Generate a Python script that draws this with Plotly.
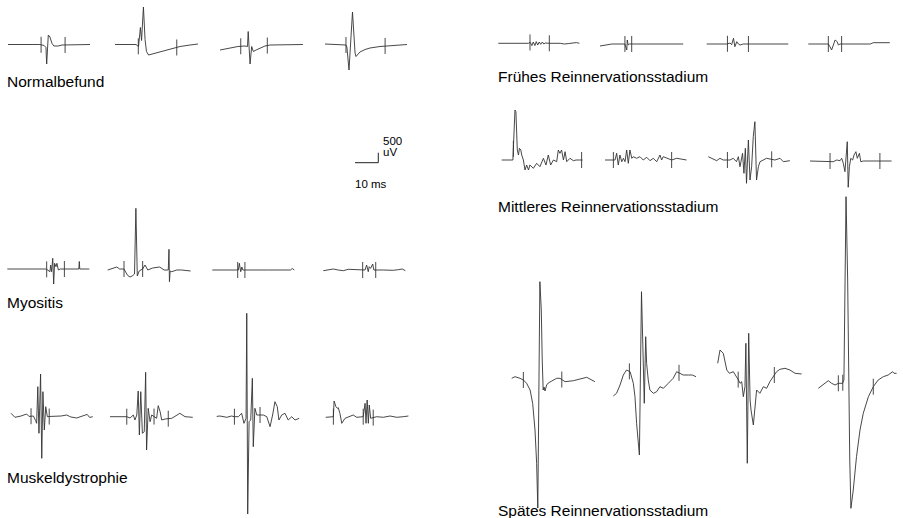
import numpy as np
import plotly.graph_objects as go

# ---------------- data (time in ms, amplitude in microvolt) ----------------
normal_1_ms = [0, 13.7, 15.5, 16.3, 16.6, 17.3, 18.0, 18.9, 19.7, 21.5, 23.2, 35.2]
normal_1_uv = [0, 0, -50, -150, -975, 475, 375, 50, -75, -75, -25, 0]
normal_1_cursors = [14.2, 24.5]

normal_2_ms = [0, 9.0, 10.1, 10.9, 11.4, 12.2, 12.9, 13.5, 14.4, 15.9, 19.3, 23.6, 27.9, 32.2, 35.6]
normal_2_uv = [0, 0, -100, 850, 200, 1875, 250, -350, -525, -475, -375, -250, -100, -25, 25]
normal_2_cursors = [10.0, 26.5]

normal_3_ms = [0, 4.3, 7.7, 10.7, 11.8, 12.1, 12.9, 13.6, 14.3, 15.5, 17.2, 19.3, 21.5, 35.6]
normal_3_uv = [-275, -175, -100, -75, -100, 650, -975, -100, -350, -275, -175, -75, -25, 0]
normal_3_cursors = [8.9, 20.3]

normal_4_ms = [0, 7.7, 9.0, 9.4, 10.3, 11.8, 12.2, 12.9, 13.3, 15.0, 17.2, 19.3, 23.6, 27.9, 35.2]
normal_4_uv = [50, 0, 0, -100, -1250, 1650, 750, -400, -575, -350, -225, -150, -75, -25, 25]
normal_4_cursors = [9.0, 25.8]

myositis_1_ms = [0, 16.7, 18.3, 18.6, 19.0, 19.5, 19.9, 20.3, 20.9, 21.3, 21.9, 22.7, 30.7, 30.9, 31.1, 35.2]
myositis_1_uv = [0, 0, -135, 200, -135, 535, -750, 285, 115, 285, -50, 0, 0, 375, 0, 0]
myositis_1_cursors = [16.9, 24.5]

myositis_2_ms = [0, 2.6, 3.9, 5.1, 7.0, 7.7, 8.6, 9.6, 10.5, 11.5, 12.1, 12.7, 13.5, 15.0, 16.0,
                 17.2, 19.3, 22.3, 24.2, 26.0, 26.3, 26.5, 26.8, 27.5, 29.6, 31.7, 33.9, 35.6]
myositis_2_uv = [-50, 50, 100, 0, 0, -150, -325, -400, -350, -250, 3035, -350, -100, 0, 200,
                 -50, 50, 100, -50, -50, 985, -635, -100, -135, -50, -50, -85, -100]
myositis_2_cursors = [7.0, 15.0]

myositis_3_ms = [0, 11.2, 11.6, 12.2, 12.7, 13.1, 23.6, 33.5, 34.3, 35.2]
myositis_3_uv = [0, 0, 335, -85, 150, 0, 0, 0, 75, 0]
myositis_3_cursors = [10.9, 14.0]

myositis_4_ms = [0, 2.1, 4.3, 6.4, 8.6, 10.7, 12.9, 16.7, 17.9, 18.6, 19.3, 19.7, 20.3, 21.2, 21.7,
                 25.7, 30.0, 32.2, 33.9, 35.2]
myositis_4_uv = [-35, 15, 50, 0, -35, 35, 15, 0, 0, 250, -85, 165, 85, 300, 0,
                 0, -15, 15, 50, -35]
myositis_4_cursors = [16.9, 22.5]

dystrophy_1_ms = [0, 1.7, 4.3, 6.7, 7.7, 9.6, 10.6, 11.0, 11.5, 12.0, 12.7, 13.2, 13.7, 14.3, 14.9,
                  15.6, 17.2, 21.5, 23.9, 25.7, 28.2, 30.0, 32.7, 33.7, 35.1]
dystrophy_1_uv = [170, -30, 35, 135, 15, 35, -200, -330, 1500, -830, 2135, -2080, 1250, -665, 500,
                  0, 15, 35, 85, -15, -65, 0, 115, -35, 0]
dystrophy_1_cursors = [8.6, 16.4]

dystrophy_2_ms = [0, 4.3, 7.2, 8.6, 10.0, 10.7, 11.5, 12.1, 12.6, 13.2, 13.9, 14.7, 15.3, 15.7, 16.4,
                  17.2, 17.9, 20.0, 20.7, 21.5, 22.2, 23.6, 26.5, 30.0, 32.2, 35.5]
dystrophy_2_uv = [0, -15, 0, -65, 85, -165, 85, 1285, -915, 1250, -830, -750, 2220, -1665, 420,
                  -250, 85, -80, 550, 250, -165, -115, -80, 170, 0, -30]
dystrophy_2_cursors = [7.2, 18.9, 25.0]

dystrophy_3_ms = [0, 1.4, 4.3, 6.4, 7.6, 9.3, 10.7, 11.7, 12.6, 12.9, 13.3, 13.9, 14.6, 15.3, 15.7,
                  16.4, 17.2, 20.0, 21.5, 22.9, 24.0, 25.0, 26.0, 26.7, 27.9, 29.3, 30.7, 32.2, 33.6, 35.4]
dystrophy_3_uv = [15, 35, -30, 35, 0, 0, 170, -330, -80, 5170, -4865, -250, -165, 1920, -1500,
                  420, 85, 85, 0, -500, 85, 750, 500, -165, 85, 170, -165, 0, -165, -80]
dystrophy_3_cursors = [7.6, 18.6]

dystrophy_4_ms = [0, 1.8, 3.3, 3.6, 4.4, 5.0, 5.4, 6.1, 6.9, 8.3, 9.7, 11.8, 13.3, 14.7, 16.1,
                  16.9, 17.3, 17.8, 18.3, 18.7, 19.3, 21.9, 24.7, 27.6, 30.5, 33.3, 35.5]
dystrophy_4_uv = [-30, -15, 0, 785, 500, 420, 450, 170, -330, -80, 0, 85, -30, 0, 0,
                  670, -330, 835, -330, 585, -80, 0, -30, 35, -30, 0, 35]
dystrophy_4_cursors = [3.3, 16.1, 20.4]

early_1_ms = [0, 12.9, 13.7, 14.4, 15.0, 15.7, 16.3, 16.9, 17.6, 18.2, 18.9, 19.5, 20.2, 21.9,
              26.6, 28.3, 30.0, 31.7, 33.5, 34.8]
early_1_uv = [0, 0, 50, -115, 65, -115, 85, -85, 65, -50, 65, -35, 15, 0,
              0, -35, -15, 15, 35, 0]
early_1_cursors = [13.6, 21.9]

early_2_ms = [0, 2.1, 3.4, 5.1, 8.6, 10.7, 11.5, 11.7, 12.1, 12.6, 17.2, 25.7, 35.7]
early_2_uv = [-100, -50, -35, 0, 0, 0, -300, 200, -50, 0, 0, 0, 0]
early_2_cursors = [10.7, 13.6]

early_3_ms = [0, 8.6, 10.0, 10.7, 11.5, 12.1, 12.9, 13.6, 14.3, 15.7, 35.0]
early_3_uv = [0, 0, 50, -35, 285, -135, 115, 0, -50, 0, 0]
early_3_cursors = [8.9, 17.9]

early_4_ms = [0, 8.6, 9.3, 10.0, 11.5, 12.4, 12.9, 13.6, 26.6, 27.9, 35.0]
early_4_uv = [0, 0, -135, -300, 200, 115, -50, 0, 0, 65, 65]
early_4_cursors = [8.6, 14.3]

middle_1_ms = [0, 4.8, 5.7, 6.1, 6.7, 7.2, 7.6, 8.2, 8.6, 9.3, 10.0, 10.7, 11.5, 12.1, 13.6, 15.0,
               16.4, 17.9, 19.0, 20.0, 21.0, 22.2, 23.6, 24.3, 25.0, 25.7, 26.5, 27.2, 27.9, 29.3,
               30.8, 31.9, 34.7]
middle_1_uv = [0, 0, 2500, 2415, 500, 250, 585, 500, 250, 0, -500, -250, -500, -250, -415, -165,
               -335, 85, -250, 250, -250, 0, -85, 500, 335, 500, 0, 415, -85, 85,
               -35, 0, 0]
middle_1_cursors = [5.0, 34.3]

middle_2_ms = [0, 4.3, 5.0, 5.7, 6.4, 7.2, 7.9, 8.6, 9.3, 10.0, 10.7, 11.5, 12.1, 13.6, 15.0, 16.4,
               17.9, 19.3, 20.7, 22.2, 23.6, 24.3, 25.0, 26.5, 28.6, 30.8, 32.9, 35.0]
middle_2_uv = [0, 0, 335, -250, 250, -85, 85, -85, 500, -165, 500, 85, 165, 85, 165, 0,
               135, -35, 85, -85, 250, 0, 165, 85, 0, 85, 35, 0]
middle_2_cursors = [3.6, 28.6]

middle_3_ms = [0, 1.4, 3.6, 5.0, 6.4, 9.3, 10.7, 12.1, 12.9, 13.6, 14.7, 15.3, 15.9, 16.4, 17.2,
               17.9, 18.6, 19.3, 20.0, 20.7, 21.5, 22.2, 23.6, 25.0, 28.6, 30.8, 32.2, 35.0]
middle_3_uv = [165, 85, -35, 85, 0, 0, 85, -85, 165, -335, 335, -665, 585, -1165, 1000,
               -1000, -335, 1165, 1915, -1000, -335, -85, 0, 85, 0, 85, -85, -35]
middle_3_cursors = [8.2, 27.2]

middle_4_ms = [0, 8.6, 10.0, 11.5, 12.9, 13.6, 14.3, 15.0, 15.4, 16.0, 16.4, 16.9, 17.5, 18.3,
               18.9, 19.7, 20.3, 21.2, 21.8, 22.9, 35.0]
middle_4_uv = [0, 0, -35, 50, 15, 135, -115, -535, 135, 965, -1315, -285, 135, 50,
               300, 465, 135, 385, -35, 0, 0]
middle_4_cursors = [8.6, 30.0]

late_1_ms = [0, 1.4, 3.6, 5.0, 6.4, 7.9, 9.0, 10.0, 10.7, 11.2, 12.1, 12.7, 13.1, 13.5, 13.9,
             14.3, 15.0, 15.7, 17.2, 19.3, 20.7, 22.9, 26.5, 32.2, 35.7]
late_1_uv = [85, 165, 85, 0, -165, -500, -1165, -2500, -4165, -6400, 4915, 3500, 1000, -500, -350,
             -550, -250, -150, -50, 85, 85, -85, -35, 135, -85]
late_1_cursors = [5.0, 21.5]

late_2_ms = [0, 1.4, 2.9, 4.3, 5.7, 7.2, 8.6, 9.3, 10.0, 10.7, 11.2, 12.1, 12.7, 13.3, 13.9, 14.3,
             15.0, 15.7, 17.2, 18.6, 20.0, 21.5, 23.6, 25.7, 27.2, 28.6, 30.0, 32.2, 33.9, 35.5]
late_2_uv = [-800, -665, -250, 250, 500, 415, -165, -835, -2165, -3000, -3750, 4415, 2000, -1165, 2165, 835,
             0, -500, -665, -585, -335, -415, -165, 85, 415, 335, 250, 250, 250, 165]
late_2_cursors = [6.9, 28.2]

late_3_ms = [0, 1.0, 2.4, 3.9, 5.0, 6.7, 8.9, 9.6, 10.3, 11.0, 11.7, 12.1, 12.7, 13.3, 13.9, 14.3,
             15.3, 16.0, 16.7, 18.1, 19.6, 21.0, 22.4, 24.3, 25.3, 26.7, 28.9, 31.0, 33.2, 36.0]
late_3_uv = [835, 1500, 1335, 500, 335, 415, 0, -165, -85, -835, -335, 1835, -4165, 2335, -1000, -1500,
             -2250, -1500, -500, -665, -335, -415, -85, 250, 415, 535, 585, 500, 335, 300]
late_3_cursors = [8.8, 24.3]

late_4_ms = [0, 2.1, 4.3, 5.7, 7.2, 8.6, 10.4, 11.0, 11.9, 12.6, 13.0, 13.5, 14.0, 15.0, 16.4, 17.9,
             19.3, 21.5, 23.6, 25.7, 27.9, 30.0, 31.9, 32.5, 33.6]
late_4_uv = [-415, -250, -35, -165, -250, -165, -165, 0, 9165, 5000, 0, -4000, -6415, -5500, -3835, -2500,
             -1665, -835, -335, 0, 165, 250, 415, 335, 335]
late_4_cursors = [8.6, 10.5, 23.6]

row_labels = ["Normalbefund", "Myositis", "Muskeldystrophie",
              "Frühes Reinnervationsstadium", "Mittleres Reinnervationsstadium",
              "Spätes Reinnervationsstadium"]
scale_ms = 10
scale_uv = 500

waveforms = [
    (normal_1_ms, normal_1_uv, normal_1_cursors), (normal_2_ms, normal_2_uv, normal_2_cursors),
    (normal_3_ms, normal_3_uv, normal_3_cursors), (normal_4_ms, normal_4_uv, normal_4_cursors),
    (myositis_1_ms, myositis_1_uv, myositis_1_cursors), (myositis_2_ms, myositis_2_uv, myositis_2_cursors),
    (myositis_3_ms, myositis_3_uv, myositis_3_cursors), (myositis_4_ms, myositis_4_uv, myositis_4_cursors),
    (dystrophy_1_ms, dystrophy_1_uv, dystrophy_1_cursors), (dystrophy_2_ms, dystrophy_2_uv, dystrophy_2_cursors),
    (dystrophy_3_ms, dystrophy_3_uv, dystrophy_3_cursors), (dystrophy_4_ms, dystrophy_4_uv, dystrophy_4_cursors),
    (early_1_ms, early_1_uv, early_1_cursors), (early_2_ms, early_2_uv, early_2_cursors),
    (early_3_ms, early_3_uv, early_3_cursors), (early_4_ms, early_4_uv, early_4_cursors),
    (middle_1_ms, middle_1_uv, middle_1_cursors), (middle_2_ms, middle_2_uv, middle_2_cursors),
    (middle_3_ms, middle_3_uv, middle_3_cursors), (middle_4_ms, middle_4_uv, middle_4_cursors),
    (late_1_ms, late_1_uv, late_1_cursors), (late_2_ms, late_2_uv, late_2_cursors),
    (late_3_ms, late_3_uv, late_3_cursors), (late_4_ms, late_4_uv, late_4_cursors),
]

# ---------------- layout (pixel placement of each recording) ----------------
W, H = 903, 518
PX_PER_MS = 2.33
PX_PER_UV = 0.02
CURSOR_HALF_UV = 400
LINE = dict(color="#333333", width=0.9)

# (left x of sweep, baseline y) in pixels
placement = [
    (8, 44.5), (115, 44.5), (220, 44.5), (325, 45),
    (7.3, 269), (107.7, 269), (212.3, 270), (323.3, 270),
    (11, 416.7), (110, 416.7), (216.7, 416.7), (325.7, 416.7),
    (498.3, 43.3), (600, 44), (706.7, 44), (808.3, 44),
    (501.7, 160), (605, 160), (708.3, 160), (810, 161),
    (511.7, 380), (613.3, 380), (717.7, 380), (818.3, 380),
]
scale_origin = (378.3, 162.7)
label_pos = [(5, 81.5), (5, 302), (5, 477), (496, 76.5), (496, 206.5), (496, 510)]

fig = go.Figure()
layout_axes = {}


def add_axes(idx, x0, yb):
    xname = "xaxis" if idx == 1 else f"xaxis{idx}"
    yname = "yaxis" if idx == 1 else f"yaxis{idx}"
    xa = dict(range=[-x0 / PX_PER_MS, (W - x0) / PX_PER_MS], visible=False, fixedrange=True)
    ya = dict(range=[(yb - H) / PX_PER_UV, yb / PX_PER_UV], visible=False, fixedrange=True)
    if idx == 1:
        xa["domain"] = [0, 1]
        ya["domain"] = [0, 1]
    else:
        xa["overlaying"] = "x"
        ya["overlaying"] = "y"
    layout_axes[xname] = xa
    layout_axes[yname] = ya
    return ("x" if idx == 1 else f"x{idx}"), ("y" if idx == 1 else f"y{idx}")


for i, ((t, v, cur), (x0, yb)) in enumerate(zip(waveforms, placement), start=1):
    xr, yr = add_axes(i, x0, yb)
    fig.add_trace(go.Scatter(x=t, y=v, mode="lines", line=LINE, xaxis=xr, yaxis=yr,
                             hoverinfo="skip"))
    cx, cy = [], []
    for c in cur:
        mid = float(np.interp(c, t, v))
        cx += [c, c, None]
        cy += [mid - CURSOR_HALF_UV, mid + CURSOR_HALF_UV, None]
    fig.add_trace(go.Scatter(x=cx, y=cy, mode="lines", line=LINE, xaxis=xr, yaxis=yr,
                             hoverinfo="skip"))

# scale bar
k = len(waveforms) + 1
xr, yr = add_axes(k, *scale_origin)
fig.add_trace(go.Scatter(x=[-scale_ms, 0, 0], y=[0, 0, scale_uv], mode="lines",
                         line=dict(color="#222", width=1), xaxis=xr, yaxis=yr, hoverinfo="skip"))

FONT = "Liberation Sans, Arial, Helvetica, sans-serif"
annotations = []
for text, (lx, ly) in zip(row_labels, label_pos):
    annotations.append(dict(text=text, x=lx / W, y=1 - ly / H, xref="paper", yref="paper",
                            xanchor="left", yanchor="middle", showarrow=False,
                            font=dict(family=FONT, size=15.5, color="#000")))
for text, (lx, ly) in [(f"{scale_uv}", (380.5, 141.5)), ("uV", (380.5, 151.5)),
                       (f"{scale_ms} ms", (353, 183.5))]:
    annotations.append(dict(text=text, x=lx / W, y=1 - ly / H, xref="paper", yref="paper",
                            xanchor="left", yanchor="middle", showarrow=False,
                            font=dict(family=FONT, size=11.5, color="#000")))

fig.update_layout(width=W, height=H, autosize=False, margin=dict(l=0, r=0, t=0, b=0),
                  paper_bgcolor="white", plot_bgcolor="rgba(0,0,0,0)", showlegend=False,
                  annotations=annotations, **layout_axes)

fig.write_html("out.html", config={"displayModeBar": False},
               post_script="document.body.style.margin='0';document.body.style.overflow='hidden';")
